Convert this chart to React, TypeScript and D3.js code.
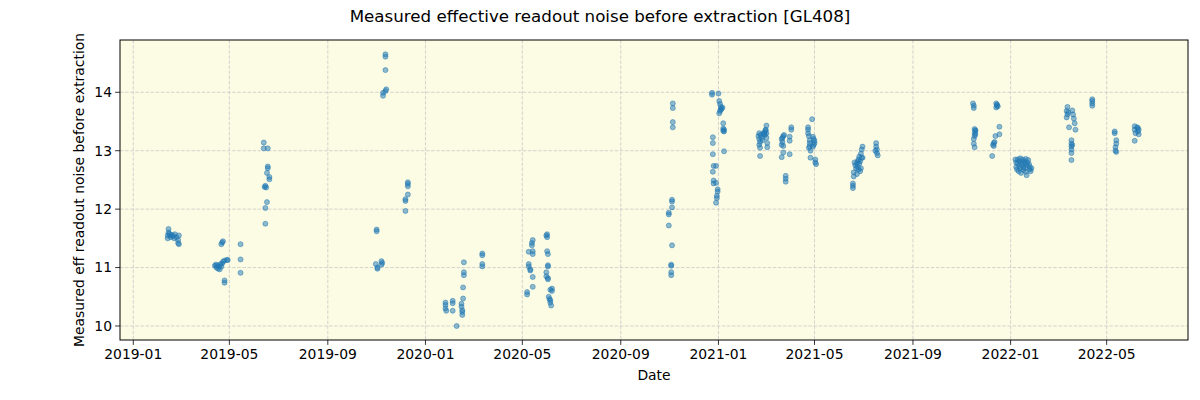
import React, { useEffect } from "react";
import * as d3 from "d3";

type P = [string, number];

const obs2019a: P[] = [
  ["2019-02-13", 11.55], ["2019-02-13", 11.5], ["2019-02-14", 11.6], ["2019-02-14", 11.66], ["2019-02-15", 11.58],
  ["2019-02-16", 11.55], ["2019-02-17", 11.52], ["2019-02-18", 11.56], ["2019-02-20", 11.54], ["2019-02-21", 11.5],
  ["2019-02-22", 11.57], ["2019-02-24", 11.52], ["2019-02-26", 11.47], ["2019-02-26", 11.42], ["2019-02-27", 11.4],
  ["2019-02-27", 11.55],
  ["2019-04-13", 11.03], ["2019-04-14", 11.05], ["2019-04-15", 11.0], ["2019-04-16", 11.04], ["2019-04-17", 10.98],
  ["2019-04-18", 11.02], ["2019-04-19", 10.97], ["2019-04-20", 11.06], ["2019-04-21", 11.02], ["2019-04-22", 11.07],
  ["2019-04-23", 11.1], ["2019-04-21", 11.4], ["2019-04-22", 11.43], ["2019-04-23", 11.45], ["2019-04-25", 10.78],
  ["2019-04-25", 10.74], ["2019-04-25", 11.12], ["2019-04-28", 11.13], ["2019-04-29", 11.13], ["2019-05-15", 11.4],
  ["2019-05-15", 11.14], ["2019-05-15", 10.91],
  ["2019-06-13", 13.14], ["2019-06-13", 13.04], ["2019-06-18", 13.04], ["2019-06-18", 12.73], ["2019-06-18", 12.7],
  ["2019-06-17", 12.62], ["2019-06-20", 12.55], ["2019-06-20", 12.51], ["2019-06-14", 12.38], ["2019-06-16", 12.37],
  ["2019-06-15", 12.4], ["2019-06-17", 12.12], ["2019-06-15", 12.02], ["2019-06-15", 11.75],
];

const obs2019b: P[] = [
  ["2019-11-01", 11.65], ["2019-11-01", 11.62], ["2019-10-31", 11.06], ["2019-11-02", 11.0], ["2019-11-02", 10.98],
  ["2019-11-07", 11.11], ["2019-11-08", 11.08], ["2019-11-07", 11.05], ["2019-11-09", 13.99], ["2019-11-09", 13.94],
  ["2019-11-12", 14.02], ["2019-11-13", 14.05], ["2019-11-12", 14.65], ["2019-11-12", 14.61], ["2019-11-12", 14.38],
  ["2019-12-10", 12.46], ["2019-12-10", 12.43], ["2019-12-10", 12.39], ["2019-12-10", 12.25], ["2019-12-07", 12.17],
  ["2019-12-07", 12.14], ["2019-12-07", 11.97],
];

const obs2020a: P[] = [
  ["2020-01-26", 10.4], ["2020-01-26", 10.36], ["2020-01-26", 10.3], ["2020-01-27", 10.26], ["2020-02-04", 10.43],
  ["2020-02-04", 10.39], ["2020-02-04", 10.26], ["2020-02-09", 10.0], ["2020-02-15", 10.38], ["2020-02-15", 10.33],
  ["2020-02-16", 10.24], ["2020-02-16", 10.27], ["2020-02-16", 10.19], ["2020-02-17", 10.47], ["2020-02-17", 10.66],
  ["2020-02-18", 10.92], ["2020-02-18", 10.87], ["2020-02-18", 11.09], ["2020-03-12", 11.24], ["2020-03-12", 11.21],
  ["2020-03-12", 11.06], ["2020-03-12", 11.02],
  ["2020-05-07", 10.58], ["2020-05-07", 10.54], ["2020-05-09", 11.27], ["2020-05-09", 11.06], ["2020-05-09", 11.02],
  ["2020-05-11", 10.97], ["2020-05-11", 10.95], ["2020-05-13", 11.42], ["2020-05-13", 11.38], ["2020-05-14", 11.47],
  ["2020-05-14", 11.28], ["2020-05-14", 11.23], ["2020-05-14", 10.84], ["2020-05-14", 10.67],
  ["2020-05-31", 11.55], ["2020-06-01", 11.57], ["2020-06-01", 11.52], ["2020-06-01", 11.28], ["2020-06-02", 11.23],
  ["2020-06-02", 11.04], ["2020-06-02", 11.02], ["2020-05-31", 10.92], ["2020-05-31", 10.85], ["2020-06-02", 10.82],
  ["2020-06-02", 10.8], ["2020-06-03", 10.5], ["2020-06-04", 10.46], ["2020-06-05", 10.44], ["2020-06-05", 10.62],
  ["2020-06-07", 10.64], ["2020-06-07", 10.6], ["2020-06-05", 10.4], ["2020-06-06", 10.35],
];

const obs2020b: P[] = [
  ["2020-11-05", 13.81], ["2020-11-05", 13.73], ["2020-11-05", 13.49], ["2020-11-05", 13.4], ["2020-11-04", 12.16],
  ["2020-11-04", 12.13], ["2020-11-04", 12.03], ["2020-10-31", 11.94], ["2020-10-31", 11.91], ["2020-10-31", 11.72],
  ["2020-11-04", 11.38], ["2020-11-03", 11.05], ["2020-11-03", 11.03], ["2020-11-03", 10.92], ["2020-11-03", 10.87],
  ["2020-12-24", 13.99], ["2020-12-24", 13.96], ["2021-01-01", 13.98], ["2021-01-02", 13.85], ["2021-01-03", 13.8],
  ["2021-01-04", 13.75], ["2021-01-05", 13.72], ["2021-01-03", 13.68], ["2021-01-02", 13.64], ["2021-01-06", 13.74],
  ["2021-01-04", 13.7], ["2021-01-07", 13.47], ["2021-01-07", 13.38], ["2021-01-08", 13.33], ["2021-01-08", 13.36],
  ["2021-01-07", 13.34], ["2020-12-25", 13.23], ["2020-12-25", 13.13], ["2021-01-08", 12.99], ["2020-12-25", 12.94],
  ["2020-12-29", 12.74], ["2020-12-26", 12.74], ["2020-12-25", 12.64], ["2020-12-26", 12.49], ["2020-12-26", 12.44],
  ["2020-12-29", 12.45], ["2020-12-31", 12.34], ["2020-12-31", 12.3], ["2020-12-30", 12.23], ["2020-12-30", 12.19],
  ["2020-12-29", 12.11],
];

const obs2021a: P[] = [
  ["2021-02-21", 13.3], ["2021-02-20", 13.25], ["2021-02-21", 13.2], ["2021-02-22", 13.15], ["2021-02-21", 13.1],
  ["2021-02-22", 13.05], ["2021-02-22", 12.91], ["2021-02-23", 13.27], ["2021-02-24", 13.22], ["2021-02-25", 13.18],
  ["2021-02-26", 13.3], ["2021-02-28", 13.32], ["2021-03-01", 13.36], ["2021-03-02", 13.43], ["2021-02-28", 13.27],
  ["2021-03-02", 13.3], ["2021-03-02", 13.22], ["2021-03-03", 13.13], ["2021-03-03", 13.06], ["2021-03-01", 13.35],
  ["2021-02-27", 13.28],
  ["2021-03-21", 13.2], ["2021-03-22", 13.15], ["2021-03-23", 13.25], ["2021-03-21", 13.1], ["2021-03-23", 13.08],
  ["2021-03-22", 13.22], ["2021-03-24", 13.27], ["2021-03-23", 12.97], ["2021-03-21", 12.89], ["2021-03-26", 12.57],
  ["2021-03-26", 12.52], ["2021-03-26", 12.47], ["2021-03-31", 13.24], ["2021-03-31", 13.17], ["2021-04-02", 13.4],
  ["2021-04-02", 13.36], ["2021-03-31", 12.94],
  ["2021-04-28", 13.54], ["2021-04-23", 13.4], ["2021-04-23", 13.36], ["2021-04-23", 13.3], ["2021-04-24", 13.25],
  ["2021-04-25", 13.13], ["2021-04-25", 13.08], ["2021-04-26", 13.0], ["2021-04-26", 12.88], ["2021-04-29", 13.24],
  ["2021-04-30", 13.2], ["2021-05-01", 13.13], ["2021-04-30", 13.1], ["2021-04-29", 13.07], ["2021-05-01", 13.17],
  ["2021-05-02", 12.85], ["2021-05-02", 12.8], ["2021-05-03", 12.77], ["2021-04-25", 13.18], ["2021-04-24", 13.05],
];

const obs2021b: P[] = [
  ["2021-06-18", 12.44], ["2021-06-18", 12.4], ["2021-06-18", 12.36], ["2021-06-19", 12.63], ["2021-06-19", 12.56],
  ["2021-06-20", 12.8], ["2021-06-21", 12.75], ["2021-06-22", 12.7], ["2021-06-23", 12.6], ["2021-06-24", 12.72],
  ["2021-06-25", 12.85], ["2021-06-26", 12.9], ["2021-06-27", 12.82], ["2021-06-28", 12.95], ["2021-06-29", 13.02],
  ["2021-06-30", 13.07], ["2021-06-27", 12.65], ["2021-06-28", 12.7], ["2021-06-26", 12.78], ["2021-06-25", 12.68],
  ["2021-06-29", 12.88], ["2021-06-24", 12.82], ["2021-06-23", 12.78], ["2021-06-30", 12.88], ["2021-07-17", 13.13],
  ["2021-07-17", 13.07], ["2021-07-18", 13.02], ["2021-07-18", 12.96], ["2021-07-19", 12.92], ["2021-07-16", 13.0],
  ["2021-11-15", 13.81], ["2021-11-16", 13.77], ["2021-11-16", 13.73], ["2021-11-17", 13.37], ["2021-11-18", 13.34],
  ["2021-11-17", 13.3], ["2021-11-17", 13.25], ["2021-11-16", 13.2], ["2021-11-16", 13.12], ["2021-11-17", 13.06],
  ["2021-11-18", 13.35], ["2021-11-18", 13.28],
  ["2021-12-14", 13.81], ["2021-12-15", 13.79], ["2021-12-16", 13.76], ["2021-12-14", 13.74], ["2021-12-15", 13.77],
  ["2021-12-18", 13.41], ["2021-12-18", 13.28], ["2021-12-13", 13.25], ["2021-12-11", 13.13], ["2021-12-10", 13.1],
  ["2021-12-11", 13.08], ["2021-12-09", 12.91], ["2021-12-12", 13.15],
];

const obs2022: P[] = [
  ["2022-01-07", 12.85], ["2022-01-08", 12.8], ["2022-01-08", 12.72], ["2022-01-09", 12.68], ["2022-01-10", 12.85],
  ["2022-01-10", 12.78], ["2022-01-11", 12.65], ["2022-01-12", 12.82], ["2022-01-12", 12.74], ["2022-01-13", 12.87],
  ["2022-01-13", 12.7], ["2022-01-14", 12.62], ["2022-01-15", 12.8], ["2022-01-15", 12.76], ["2022-01-16", 12.85],
  ["2022-01-17", 12.72], ["2022-01-17", 12.67], ["2022-01-18", 12.82], ["2022-01-19", 12.78], ["2022-01-19", 12.7],
  ["2022-01-20", 12.86], ["2022-01-21", 12.75], ["2022-01-21", 12.58], ["2022-01-22", 12.8], ["2022-01-23", 12.84],
  ["2022-01-24", 12.77], ["2022-01-25", 12.72], ["2022-01-25", 12.68], ["2022-01-26", 12.65], ["2022-01-27", 12.7],
  ["2022-01-20", 12.64],
  ["2022-03-13", 13.75], ["2022-03-12", 13.68], ["2022-03-13", 13.62], ["2022-03-12", 13.57], ["2022-03-14", 13.66],
  ["2022-03-15", 13.4], ["2022-03-19", 13.69], ["2022-03-20", 13.62], ["2022-03-21", 13.55], ["2022-03-22", 13.47],
  ["2022-03-23", 13.36], ["2022-03-18", 13.18], ["2022-03-18", 13.12], ["2022-03-18", 13.07], ["2022-03-18", 13.02],
  ["2022-03-18", 12.96], ["2022-03-18", 12.84], ["2022-03-19", 13.1],
  ["2022-04-13", 13.88], ["2022-04-13", 13.85], ["2022-04-13", 13.81], ["2022-04-13", 13.77],
  ["2022-05-11", 13.33], ["2022-05-11", 13.3], ["2022-05-13", 13.18], ["2022-05-13", 13.12], ["2022-05-12", 13.06],
  ["2022-05-12", 13.0], ["2022-05-13", 12.98],
  ["2022-06-05", 13.42], ["2022-06-05", 13.36], ["2022-06-06", 13.3], ["2022-06-05", 13.17], ["2022-06-09", 13.39],
  ["2022-06-10", 13.36], ["2022-06-10", 13.28], ["2022-06-08", 13.4], ["2022-06-09", 13.33],
];

const yTicks = [10, 11, 12, 13, 14];
const xTickDates = [
  "2019-01-01", "2019-05-01", "2019-09-01", "2020-01-01", "2020-05-01", "2020-09-01",
  "2021-01-01", "2021-05-01", "2021-09-01", "2022-01-01", "2022-05-01",
];

const titleText = "Measured effective readout noise before extraction [GL408]";
const yLabel = "Measured eff readout noise before extraction";
const xLabel = "Date";

const W = 1200, H = 400;
const L = 120, R = 1188, T = 40, B = 340;
const DAY = 86400000;
const parse = (s: string) => new Date(s + "T00:00:00Z");

export default function App() {
  useEffect(() => {
    document.body.style.margin = "0";
  }, []);

  const ref0 = parse("2019-01-01").getTime();
  const x = d3
    .scaleUtc()
    .domain([new Date(ref0 - 16.6 * DAY), new Date(ref0 + 1317.6 * DAY)])
    .range([L, R]);
  const y = d3.scaleLinear().domain([9.76, 14.895]).range([B, T]);
  const fmt = d3.utcFormat("%Y-%m");

  const all: P[] = [...obs2019a, ...obs2019b, ...obs2020a, ...obs2020b, ...obs2021a, ...obs2021b, ...obs2022];
  const font = "DejaVu Sans, sans-serif";
  const grid = "#c9c9c9";

  return (
    <svg width={W} height={H} style={{ position: "absolute", left: 0, top: 0, background: "#fff" }} fontFamily={font}>
      <rect x={0} y={0} width={W} height={H} fill="#ffffff" />
      <rect x={L} y={T} width={R - L} height={B - T} fill="#fcfbe3" />
      {xTickDates.map((s) => {
        const xx = x(parse(s));
        return (
          <line key={"gx" + s} x1={xx} x2={xx} y1={T} y2={B} stroke={grid} strokeWidth={0.8} strokeDasharray="3.5,1.6" />
        );
      })}
      {yTicks.map((t) => (
        <line key={"gy" + t} x1={L} x2={R} y1={y(t)} y2={y(t)} stroke={grid} strokeWidth={0.8} strokeDasharray="3.5,1.6" />
      ))}
      <g>
        {all.map((p, i) => (
          <circle
            key={i}
            cx={x(parse(p[0]))}
            cy={y(p[1])}
            r={2.5}
            fill="#1f77b4"
            fillOpacity={0.5}
            stroke="#1f77b4"
            strokeOpacity={0.5}
            strokeWidth={1}
          />
        ))}
      </g>
      <rect x={L} y={T} width={R - L} height={B - T} fill="none" stroke="#000" strokeWidth={1} />
      {xTickDates.map((s) => {
        const xx = x(parse(s));
        return (
          <g key={"tx" + s}>
            <line x1={xx} x2={xx} y1={B} y2={B + 4.9} stroke="#000" strokeWidth={0.8} />
            <text x={xx} y={B + 19} textAnchor="middle" fontSize={13.9} fill="#000">
              {fmt(parse(s))}
            </text>
          </g>
        );
      })}
      {yTicks.map((t) => (
        <g key={"ty" + t}>
          <line x1={L - 4.9} x2={L} y1={y(t)} y2={y(t)} stroke="#000" strokeWidth={0.8} />
          <text x={L - 8} y={y(t)} dy="0.35em" textAnchor="end" fontSize={13.9} fill="#000">
            {t}
          </text>
        </g>
      ))}
      <text x={(L + R) / 2} y={388 - 8} textAnchor="middle" fontSize={13.9} fill="#000">
        {xLabel}
      </text>
      <text
        transform={`translate(${84},${(T + B) / 2}) rotate(-90)`}
        textAnchor="middle"
        fontSize={13.9}
        fill="#000"
      >
        {yLabel}
      </text>
      <text x={W / 2} y={22} textAnchor="middle" fontSize={16.7} fill="#000">
        {titleText}
      </text>
    </svg>
  );
}
